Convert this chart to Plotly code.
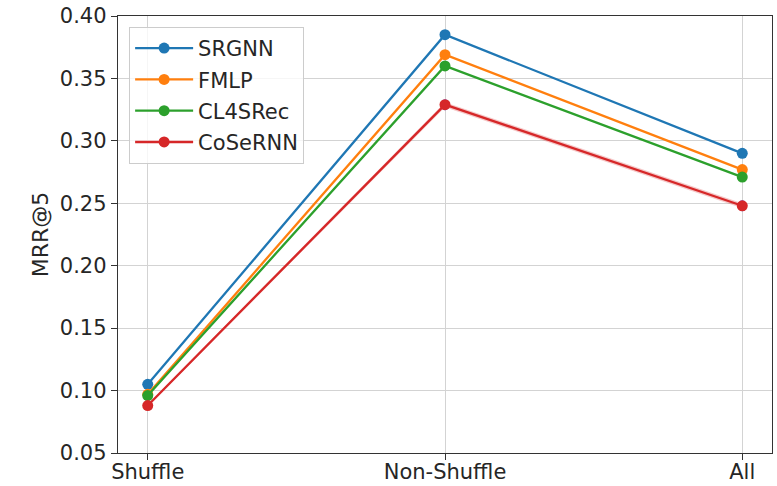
import plotly.graph_objects as go

categories = ["Shuffle", "Non-Shuffle", "All"]
series_names = ["SRGNN", "FMLP", "CL4SRec", "CoSeRNN"]
srgnn = [0.105, 0.385, 0.290]
fmlp = [0.097, 0.369, 0.277]
cl4srec = [0.096, 0.360, 0.271]
cosernn = [0.088, 0.329, 0.248]
cosernn_err = [0.001, 0.002, 0.002]
colors = ["#1f77b4", "#ff7f0e", "#2ca02c", "#d62728"]
yticks = [0.05, 0.10, 0.15, 0.20, 0.25, 0.30, 0.35, 0.40]

xs = list(range(len(categories)))
fig = go.Figure()

# shaded band for CoSeRNN
upper = [v + e for v, e in zip(cosernn, cosernn_err)]
lower = [v - e for v, e in zip(cosernn, cosernn_err)]
fig.add_trace(go.Scatter(x=xs + xs[::-1], y=upper + lower[::-1], fill="toself",
                         fillcolor="rgba(214,39,40,0.25)", line=dict(width=0),
                         hoverinfo="skip", showlegend=False, legendgroup="band"))

for name, vals, c in zip(series_names, [srgnn, fmlp, cl4srec, cosernn], colors):
    fig.add_trace(go.Scatter(x=xs, y=vals, name=name, mode="lines+markers",
                             legendgroup=name,
                             line=dict(color=c, width=2.3),
                             marker=dict(color=c, size=11)))

fig.update_layout(
    width=777, height=486,
    margin=dict(l=118, r=5, t=16, b=33),
    paper_bgcolor="white", plot_bgcolor="white",
    font=dict(family="DejaVu Sans", size=21, color="#262626"),
    legend=dict(x=0.017, y=0.975, xanchor="left", yanchor="top",
                bgcolor="rgba(255,255,255,0.8)", bordercolor="#cccccc", borderwidth=1,
                font=dict(size=21), itemwidth=58, traceorder="grouped",
                tracegroupgap=1),
    showlegend=True,
)
fig.update_xaxes(range=[-0.1, 2.1], tickvals=xs, ticktext=categories,
                 showgrid=True, gridcolor="#d3d3d3", gridwidth=1,
                 showline=True, linecolor="#333", linewidth=1.4, mirror=True,
                 ticks="outside", ticklen=6, tickcolor="#333", zeroline=False,
                 automargin=False, ticklabelstandoff=-6)
fig.update_yaxes(range=[0.05, 0.40], tickvals=yticks, tickformat=".2f",
                 showgrid=True, gridcolor="#d3d3d3", gridwidth=1,
                 showline=True, linecolor="#333", linewidth=1.4, mirror=True,
                 ticks="outside", ticklen=6, tickcolor="#333", zeroline=False,
                 automargin=False,
                 title=dict(text="MRR@5", font=dict(size=22), standoff=5))

fig.write_html("out.html")
